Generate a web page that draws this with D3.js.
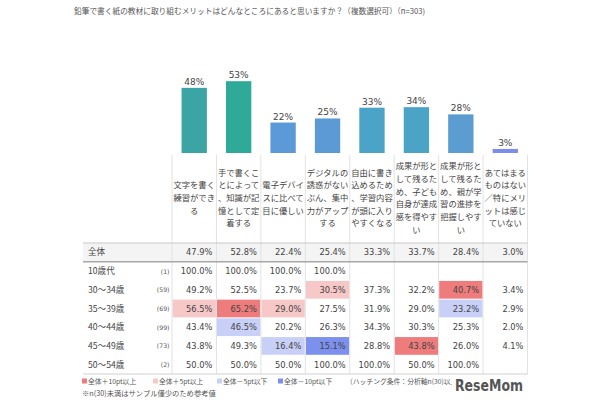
<!DOCTYPE html>
<html>
<head>
<meta charset="utf-8">
<script src="https://cdn.jsdelivr.net/npm/d3@7"></script>
<style>
  body { margin: 0; background: #fff; }
  svg { display: block; }
  .jp { font-family: "Noto Sans CJK JP", sans-serif; }
  .num { font-family: "DejaVu Sans", sans-serif; }
</style>
</head>
<body>
<div id="chart"></div>
<script>
// header text for each option (line breaks as in the picture)
var categories = [
  ["文字を書く", "練習ができ", "る"],
  ["手で書くこ", "とによって", "、知識が記", "憶として定", "着する"],
  ["電子デバイ", "スに比べて", "目に優しい"],
  ["デジタルの", "誘惑がない", "ぶん、集中", "力がアップ", "する"],
  ["自由に書き", "込めるため", "、学習内容", "が頭に入り", "やすくなる"],
  ["成果が形と", "して残るた", "め、子ども", "自身が達成", "感を得やす", "い"],
  ["成果が形と", "して残るた", "め、親が学", "習の進捗を", "把握しやす", "い"],
  ["あてはまる", "ものはない", "／特にメリ", "ットは感じ", "ていない"]
];
var barColors = ["#3ba4a4", "#2faa98", "#5b99d8", "#5c9ad6", "#4ba3c8", "#4ba3c6", "#5b9dd0", "#7c8eea"];

var rowLabels = ["全体", "10歳代", "30～34歳", "35～39歳", "40～44歳", "45～49歳", "50～54歳"];
var rowN = [null, 1, 59, 69, 99, 73, 2];
var total = [47.9, 52.8, 22.4, 25.4, 33.3, 33.7, 28.4, 3.0];
var age10 = [100.0, 100.0, 100.0, 100.0, null, null, null, null];
var age30 = [49.2, 52.5, 23.7, 30.5, 37.3, 32.2, 40.7, 3.4];
var age35 = [56.5, 65.2, 29.0, 27.5, 31.9, 29.0, 23.2, 2.9];
var age40 = [43.4, 46.5, 20.2, 26.3, 34.3, 30.3, 25.3, 2.0];
var age45 = [43.8, 49.3, 16.4, 15.1, 28.8, 43.8, 26.0, 4.1];
var age50 = [50.0, 50.0, 50.0, 100.0, 100.0, 50.0, 100.0, null];
var rows = [total, age10, age30, age35, age40, age45, age50];

var legendItems = ["全体＋10pt以上", "全体＋5pt以上", "全体－5pt以下", "全体－10pt以下"];
var hiColors = ["#ee7c7c", "#f7c8c8", "#c8d0f8", "#7c90ee"];

var W = 610, H = 400;
var svg = d3.select("#chart").append("svg").attr("width", W).attr("height", H);

var x = d3.scaleBand().domain(d3.range(categories.length)).range([172, 527.5]);
var y = d3.scaleLinear().domain([0, 100]).range([153, 17]);
var ry = d3.scaleBand().domain(d3.range(rowLabels.length)).range([243, 374]);
var tableLeft = 83, tableRight = 527.5;

// shrink/grow a text so it spans a given width
function fitWidth(sel, w) {
  var len = sel.node().getComputedTextLength();
  var fs = +sel.attr("font-size");
  if (len > 0) sel.attr("font-size", fs * w / len);
}

// title
var title = svg.append("text").attr("class", "jp")
    .attr("x", 74).attr("y", 13.5)
    .attr("font-size", 8).attr("fill", "#555")
    .text("鉛筆で書く紙の教材に取り組むメリットはどんなところにあると思いますか？（複数選択可）（n=303)");
fitWidth(title, 352);

// bars
var bw = x.bandwidth() * 0.57;
svg.selectAll("rect.bar").data(total).enter().append("rect")
    .attr("class", "bar")
    .attr("x", function (d, i) { return x(i) + (x.bandwidth() - bw) / 2; })
    .attr("y", function (d) { return y(d); })
    .attr("width", bw)
    .attr("height", function (d) { return y(0) - y(d); })
    .attr("fill", function (d, i) { return barColors[i]; });

svg.selectAll("text.blab").data(total).enter().append("text")
    .attr("class", "blab num")
    .attr("x", function (d, i) { return x(i) + x.bandwidth() / 2; })
    .attr("y", function (d) { return y(d) - 3; })
    .attr("text-anchor", "middle")
    .attr("font-size", 9).attr("fill", "#444")
    .text(function (d) { return Math.round(d) + "%"; });

// 全体 row background
svg.append("rect")
    .attr("x", tableLeft).attr("y", ry(0))
    .attr("width", tableRight - tableLeft).attr("height", ry.bandwidth())
    .attr("fill", "#f4f4f4");

// highlighted cells (only rows with n >= 30)
rows.forEach(function (r, ri) {
  if (ri === 0 || rowN[ri] < 30) return;
  r.forEach(function (v, ci) {
    if (v === null) return;
    var diff = v - total[ci], c = null;
    if (diff >= 10) c = hiColors[0];
    else if (diff >= 5) c = hiColors[1];
    else if (diff <= -10) c = hiColors[3];
    else if (diff <= -5) c = hiColors[2];
    if (c) {
      svg.append("rect")
          .attr("x", x(ci) + 0.5).attr("y", ry(ri) + 0.5)
          .attr("width", x.bandwidth() - 1).attr("height", ry.bandwidth() - 1)
          .attr("fill", c);
    }
  });
});

// vertical grid lines
svg.selectAll("line.vl").data(d3.range(categories.length + 1)).enter().append("line")
    .attr("class", "vl")
    .attr("x1", function (i) { return i < categories.length ? x(i) : x.range()[1]; })
    .attr("x2", function (i) { return i < categories.length ? x(i) : x.range()[1]; })
    .attr("y1", 155).attr("y2", 374)
    .attr("stroke", "#e2e2e2").attr("stroke-width", 1);

// horizontal lines
svg.append("line").attr("x1", tableLeft).attr("x2", tableRight)
    .attr("y1", ry(0)).attr("y2", ry(0)).attr("stroke", "#c8c8c8");
svg.append("line").attr("x1", tableLeft).attr("x2", tableRight)
    .attr("y1", ry(1)).attr("y2", ry(1)).attr("stroke", "#a8a8a8").attr("stroke-width", 1.6);
svg.append("line").attr("x1", tableLeft).attr("x2", tableRight)
    .attr("y1", 374).attr("y2", 374).attr("stroke", "#d0d0d0");

// header texts
var lh = 12.7, hc = 198;
categories.forEach(function (lines, i) {
  var t = svg.append("text").attr("class", "jp")
      .attr("font-size", 8.3).attr("fill", "#444")
      .attr("text-anchor", "middle");
  lines.forEach(function (s, k) {
    t.append("tspan")
        .attr("x", x(i) + x.bandwidth() / 2)
        .attr("y", hc + (k - (lines.length - 1) / 2) * lh + 3)
        .text(s);
  });
});

// row labels and n
svg.selectAll("text.rl").data(rowLabels).enter().append("text")
    .attr("class", "rl jp")
    .attr("x", 88)
    .attr("y", function (d, i) { return ry(i) + ry.bandwidth() / 2 + 3; })
    .attr("font-size", 8.6).attr("fill", "#444")
    .text(function (d) { return d; });

svg.selectAll("text.rn").data(rowN).enter().append("text")
    .attr("class", "rn num")
    .attr("x", 169.5)
    .attr("y", function (d, i) { return ry(i) + ry.bandwidth() / 2 + 2.5; })
    .attr("text-anchor", "end")
    .attr("font-size", 6.2).attr("fill", "#555")
    .text(function (d) { return d === null ? "" : "(" + d + ")"; });

// values
rows.forEach(function (r, ri) {
  svg.selectAll(null).data(r).enter().append("text")
      .attr("class", "num")
      .attr("x", function (d, ci) { return x(ci) + x.bandwidth() - 4; })
      .attr("y", ry(ri) + ry.bandwidth() / 2 + 3)
      .attr("text-anchor", "end")
      .attr("font-size", 8.3).attr("fill", "#444")
      .text(function (d) { return d === null ? "" : d.toFixed(1) + "%"; });
});

// legend
var lx = [82, 153, 217, 278];
legendItems.forEach(function (s, i) {
  svg.append("rect").attr("x", lx[i]).attr("y", 378.5)
      .attr("width", 5).attr("height", 5).attr("fill", hiColors[i]);
  svg.append("text").attr("class", "jp")
      .attr("x", lx[i] + 6).attr("y", 384)
      .attr("font-size", 6.8).attr("fill", "#555").text(s);
});
svg.append("text").attr("class", "jp")
    .attr("x", 346).attr("y", 384)
    .attr("font-size", 6.8).attr("fill", "#555")
    .text("（ハッチング条件：分析軸n(30)以上）");
var note = svg.append("text").attr("class", "jp")
    .attr("x", 82).attr("y", 395.5)
    .attr("font-size", 6.8).attr("fill", "#555")
    .text("※n(30)未満はサンプル僅少のため参考値");
fitWidth(note, 134);

// watermark
svg.append("rect").attr("x", 452).attr("y", 375).attr("width", 76).attr("height", 18).attr("fill", "#fff");
svg.append("text")
    .attr("x", 455).attr("y", 390.5)
    .attr("font-family", "DejaVu Sans Condensed, DejaVu Sans, sans-serif")
    .attr("font-weight", "bold")
    .attr("font-size", 15).attr("fill", "#555")
    .attr("textLength", 68).attr("lengthAdjust", "spacingAndGlyphs")
    .text("ReseMom");
</script>
</body>
</html>
